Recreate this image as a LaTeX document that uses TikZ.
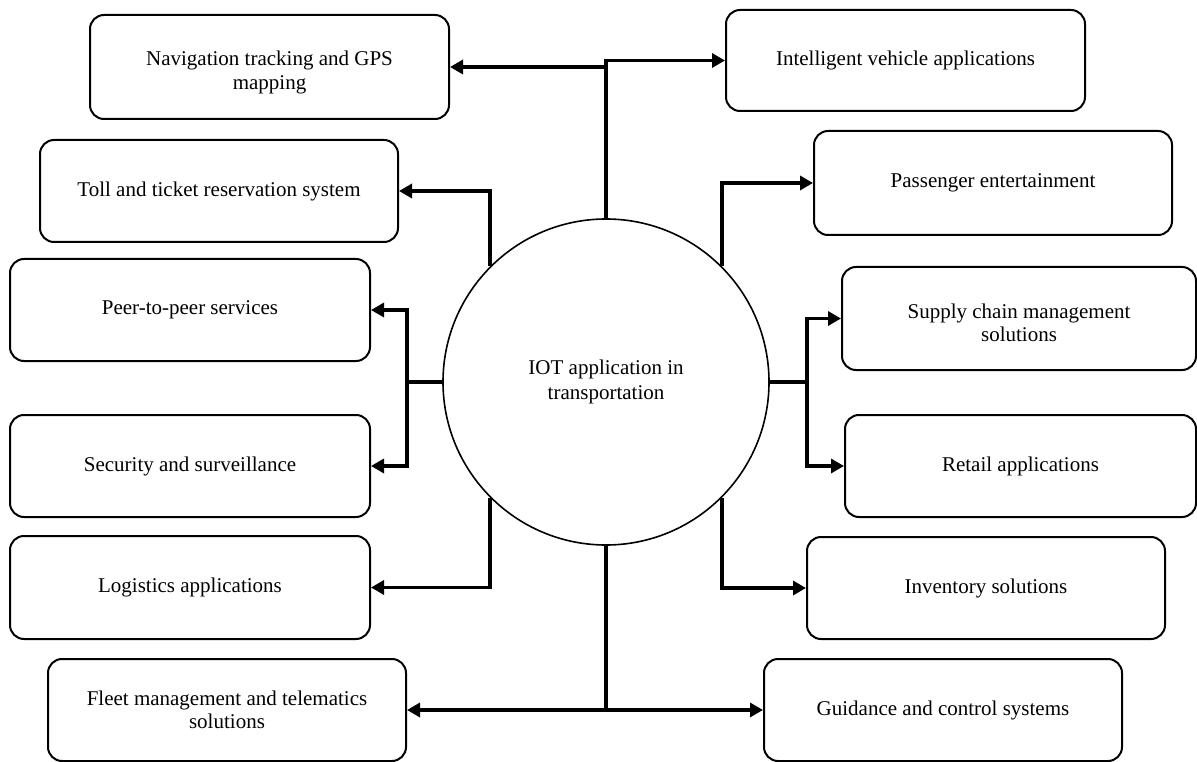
\documentclass[tikz,border=0pt]{standalone}
\usepackage{fontspec}
\setmainfont{Liberation Serif}
\usetikzlibrary{arrows.meta}
\begin{document}
\begin{tikzpicture}[x=1pt,y=-1pt,
  box/.style={draw, line width=2pt, rounded corners=14pt, minimum width=358pt, minimum height=102pt, align=center, inner sep=0pt, font=\fontsize{21}{23.5}\selectfont},
  hub/.style={draw, circle, line width=1.6pt, minimum size=326pt, align=center, inner sep=0pt, font=\fontsize{21}{24.5}\selectfont},
  conn/.style={line width=3.6pt, -{Triangle[length=13pt,width=14pt]}},
  link/.style={line width=3.6pt}]
\useasboundingbox (0,0) rectangle (1197,762);
\node[hub] (c) at (606,382) {IOT application in\\transportation};
\node[box, minimum width=359pt, minimum height=104pt] (nav) at (269.5,67) {\rule{0pt}{26pt}Navigation tracking and GPS\\mapping};
\node[box, minimum width=359pt, minimum height=101pt] (intel) at (905.5,60.5) {Intelligent vehicle applications};
\node[box] (toll) at (219,191) {Toll and ticket reservation system};
\node[box, minimum height=104pt] (pass) at (993,183) {Passenger entertainment};
\node[box, minimum width=360pt] (peer) at (190,310) {Peer-to-peer services};
\node[box, minimum width=354pt, minimum height=103pt] (supply) at (1019,318.5) {\rule{0pt}{23pt}Supply chain management\\solutions};
\node[box, minimum width=360pt] (sec) at (190,466) {Security and surveillance};
\node[box, minimum width=351pt] (retail) at (1020.5,466) {Retail applications};
\node[box, minimum width=360pt, minimum height=103pt] (log) at (190,587.5) {Logistics applications};
\node[box] (inv) at (986,588) {Inventory solutions};
\node[box] (fleet) at (227,710) {Fleet management and telematics\\solutions};
\node[box] (guid) at (943,710) {Guidance and control systems};
% top
\draw[conn] (c.north) |- (intel.west);
\draw[conn] (c.north |- nav.east) -- (nav.east);
\draw[conn] (c.135) |- (toll.east);
\draw[conn] (c.45) |- (pass.west);
% left pair
\coordinate (lj) at (407,382);
\draw[link] (c.west) -- (lj);
\draw[conn] (lj) |- (peer.east);
\draw[conn] (lj) |- (sec.east);
% right pair
\coordinate (rj) at (807,382);
\draw[link] (c.east) -- (rj);
\draw[conn] (rj) |- (supply.west);
\draw[conn] (rj) |- (retail.west);
% lower
\draw[conn] (c.225) |- (log.east);
\draw[conn] (c.315) |- (inv.west);
\draw[conn] (c.south) |- (guid.west);
\draw[conn] (c.south |- fleet.east) -- (fleet.east);
\end{tikzpicture}
\end{document}
